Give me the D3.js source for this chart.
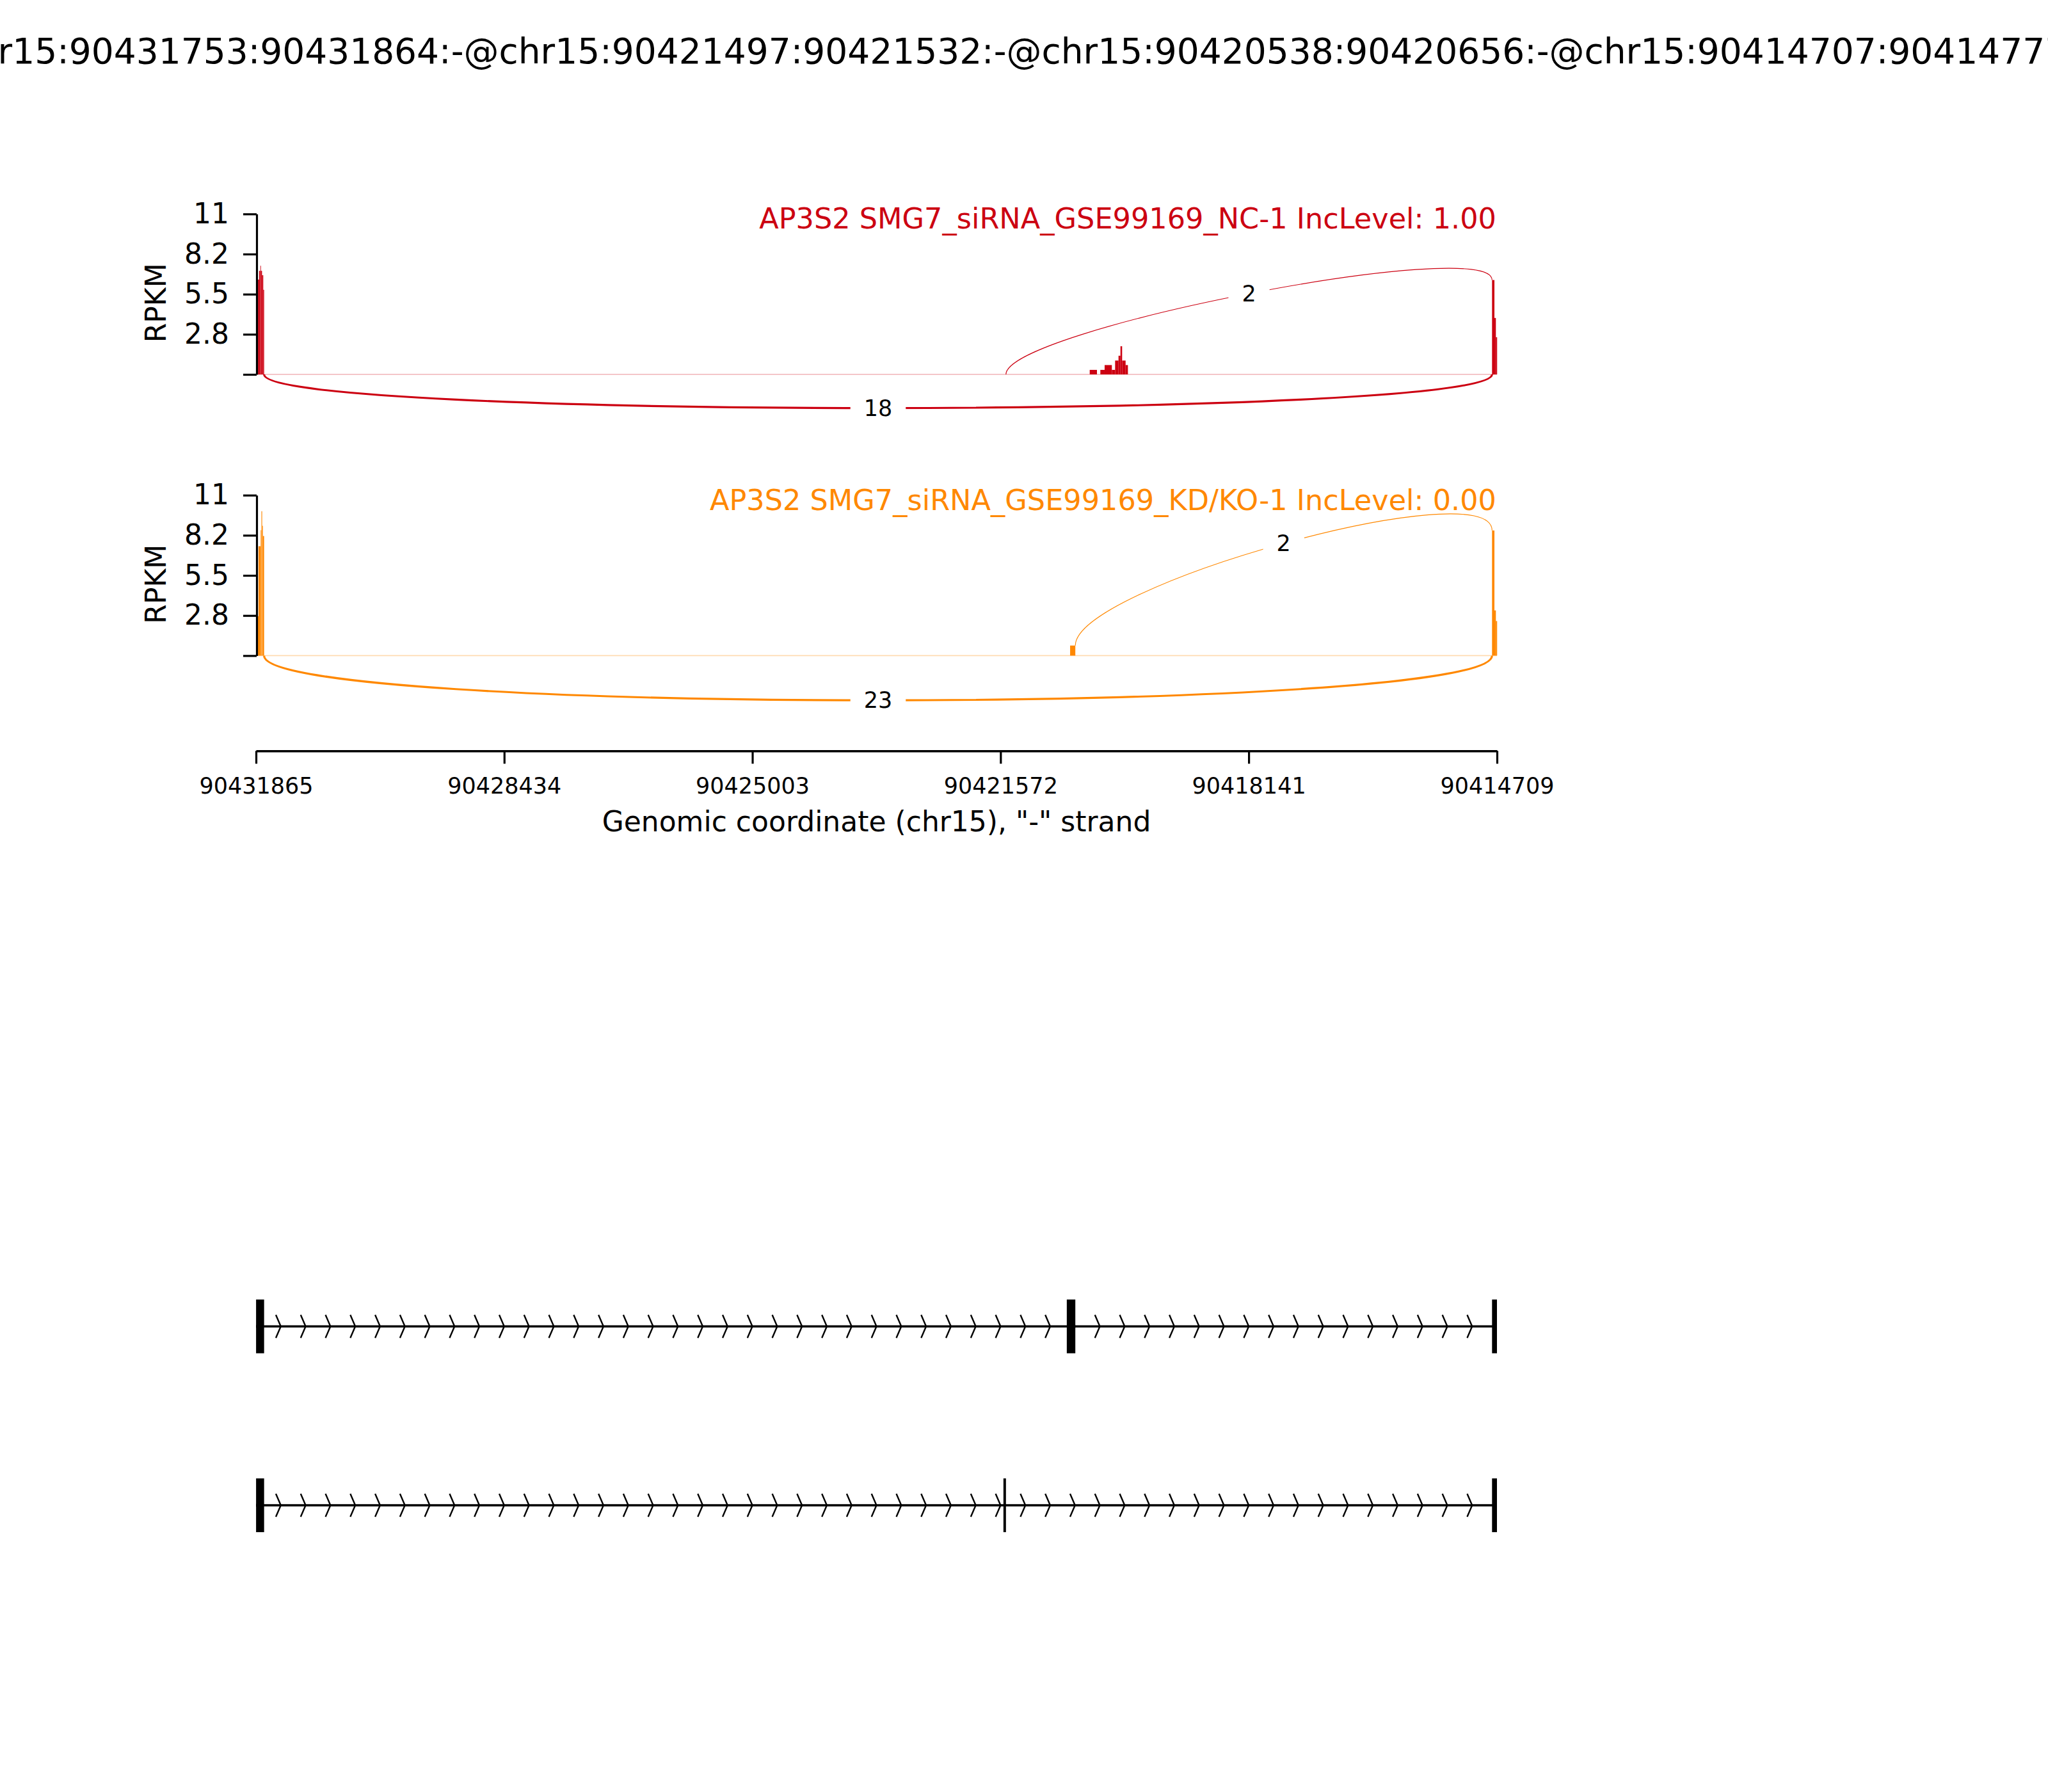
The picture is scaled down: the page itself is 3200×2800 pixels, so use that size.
<!DOCTYPE html>
<html>
<head>
<meta charset="utf-8">
<script src="https://cdn.jsdelivr.net/npm/d3@7"></script>
<style>
  body { margin: 0; background: #ffffff; }
  svg text { font-family: "DejaVu Sans", sans-serif; }
</style>
</head>
<body>
<svg id="chart" width="3200" height="2800"></svg>
<script>
// ---------------- DATA ----------------
const chartTitle = "chr15:90431753:90431864:-@chr15:90421497:90421532:-@chr15:90420538:90420656:-@chr15:90414707:90414777:-";
const sampleNames = [
  "AP3S2 SMG7_siRNA_GSE99169_NC-1 IncLevel: 1.00",
  "AP3S2 SMG7_siRNA_GSE99169_KD/KO-1 IncLevel: 0.00"
];
const sampleColors = ["#CC0011", "#FF8800"];

const xDomain = [90431865, 90414709];
const xTicks = [90431865, 90428434, 90425003, 90421572, 90418141, 90414709];
const xLabel = 'Genomic coordinate (chr15), "-" strand';
const yLabel = "RPKM";
const yMax = 11;
const yTicks = [0, 2.75, 5.5, 8.25, 11];
const yTickLabels = ["", "2.8", "5.5", "8.2", "11"];

// coverage bins: [from, to, RPKM]
const ncCoverage = [
  [90431864, 90431848, 5.2],
  [90431848, 90431838, 3.9],
  [90431838, 90431822, 6.5],
  [90431822, 90431805, 7.1],
  [90431805, 90431797, 7.45],
  [90431797, 90431782, 7.1],
  [90431782, 90431765, 6.8],
  [90431765, 90431753, 5.8],
  [90420339, 90420239, 0.31],
  [90420192, 90420133, 0.31],
  [90420133, 90420033, 0.64],
  [90420033, 90419988, 0.31],
  [90419988, 90419941, 0.95],
  [90419941, 90419914, 1.28],
  [90419914, 90419891, 1.93],
  [90419891, 90419843, 0.95],
  [90419843, 90419811, 0.64],
  [90414777, 90414744, 6.47],
  [90414744, 90414724, 3.87],
  [90414724, 90414707, 2.55]
];
const kdCoverage = [
  [90431864, 90431830, 2.7],
  [90431830, 90431800, 7.5],
  [90431800, 90431790, 8.6],
  [90431790, 90431780, 9.9],
  [90431780, 90431770, 8.9],
  [90431770, 90431753, 8.2],
  [90420610, 90420538, 0.69],
  [90414777, 90414744, 8.58],
  [90414744, 90414724, 3.1],
  [90414724, 90414707, 2.37]
];

// junctions: [donor, acceptor, read count, side]
const ncJunctions = [
  [90421497, 90414777, 2, "up"],
  [90431753, 90414777, 18, "down"]
];
const kdJunctions = [
  [90420538, 90414777, 2, "up"],
  [90431753, 90414777, 23, "down"]
];

// isoform exons: [start, end]
const isoformInclusion = [[90431864, 90431753], [90420656, 90420538], [90414777, 90414707]];
const isoformSkipping  = [[90431864, 90431753], [90421532, 90421497], [90414777, 90414707]];
const intronArrowCount = 50;

// ---------------- LAYOUT ----------------
const plotLeft = 400, plotRight = 2339;
const panelTops = [334.3, 773.7];
const panelHeight = 250.7;
const xAxisY = 1173.3;
const trackCenters = [2072.5, 2352];
const exonHeight = 84;

const svg = d3.select("#chart");
svg.append("rect").attr("width", 3200).attr("height", 2800).attr("fill", "#fff");

const defs = svg.append("defs");
defs.append("clipPath").attr("id", "trackClip")
  .append("rect").attr("x", plotLeft).attr("y", 0)
  .attr("width", plotRight - plotLeft).attr("height", 2800);

const x = d3.scaleLinear().domain(xDomain).range([plotLeft, plotRight]);

svg.append("text")
  .attr("x", 1600).attr("y", 99)
  .attr("text-anchor", "middle")
  .attr("font-size", 55)
  .attr("fill", "#000")
  .text(chartTitle);

const panels = [
  { name: sampleNames[0], color: sampleColors[0], cov: ncCoverage, jxn: ncJunctions },
  { name: sampleNames[1], color: sampleColors[1], cov: kdCoverage, jxn: kdJunctions }
];

function densAt(cov, pos) {
  const b = cov.find(d => pos <= d[0] && pos >= d[1]);
  return b ? b[2] : 0;
}
function bezier(p, t) {
  const u = 1 - t;
  const a = u * u * u, b = 3 * u * u * t, c = 3 * u * t * t, d = t * t * t;
  return [a * p[0][0] + b * p[1][0] + c * p[2][0] + d * p[3][0],
          a * p[0][1] + b * p[1][1] + c * p[2][1] + d * p[3][1]];
}

panels.forEach((p, i) => {
  const top = panelTops[i];
  const y = d3.scaleLinear().domain([0, yMax]).range([top + panelHeight, top]);
  const g = svg.append("g");

  // faint baseline
  g.append("line")
    .attr("x1", plotLeft).attr("x2", plotRight)
    .attr("y1", y(0)).attr("y2", y(0))
    .attr("stroke", p.color).attr("stroke-opacity", 0.3).attr("stroke-width", 1.6);

  // coverage
  g.selectAll("rect.cov").data(p.cov).join("rect")
    .attr("class", "cov")
    .attr("x", d => x(d[0]))
    .attr("width", d => Math.max(0.8, x(d[1]) - x(d[0])))
    .attr("y", d => y(d[2]))
    .attr("height", d => y(0) - y(d[2]))
    .attr("fill", p.color);

  // junction arcs
  const maxCov = d3.max(p.cov, d => d[2]);
  const h = 0.4125 * maxCov;
  const maxCount = d3.max(p.jxn, d => d[2]);
  p.jxn.forEach(j => {
    const x1 = x(j[0]), x2 = x(j[1]);
    let pts;
    if (j[3] === "up") {
      const l = densAt(p.cov, j[0]), r = densAt(p.cov, j[1]);
      pts = [[x1, y(l)], [x1, y(l + h)], [x2, y(r + h)], [x2, y(r)]];
    } else {
      pts = [[x1, y(0)], [x1, y(-h)], [x2, y(-h)], [x2, y(0)]];
    }
    const lw = Math.max(1.1, 3.2 * Math.log(j[2] + 1) / Math.log(maxCount + 1));
    g.append("path")
      .attr("d", `M${pts[0][0]},${pts[0][1]} C${pts[1][0]},${pts[1][1]} ${pts[2][0]},${pts[2][1]} ${pts[3][0]},${pts[3][1]}`)
      .attr("fill", "none")
      .attr("stroke", p.color)
      .attr("stroke-width", lw);
    const mid = bezier(pts, 0.5);
    const label = String(j[2]);
    const tw = label.length * 0.636 * 35;
    const padX = 21;
    g.append("rect")
      .attr("x", mid[0] - tw / 2 - padX).attr("width", tw + 2 * padX)
      .attr("y", mid[1] - 30).attr("height", 60)
      .attr("fill", "#fff");
    g.append("text")
      .attr("x", mid[0]).attr("y", mid[1])
      .attr("text-anchor", "middle")
      .attr("dominant-baseline", "central")
      .attr("font-size", 35)
      .attr("fill", "#000")
      .text(label);
  });

  // y axis
  const yAxis = d3.axisLeft(y)
    .tickValues(yTicks)
    .tickFormat((d, k) => yTickLabels[k])
    .tickSize(21).tickSizeOuter(0).tickPadding(22);
  const ag = g.append("g").attr("transform", `translate(${plotLeft + 1},0)`).call(yAxis);
  ag.select(".domain").attr("stroke", "#000").attr("stroke-width", 3.2);
  ag.selectAll(".tick line").attr("stroke", "#000").attr("stroke-width", 3.2);
  ag.selectAll(".tick text").attr("font-size", 44).attr("fill", "#000")
    .attr("font-family", '"DejaVu Sans", sans-serif');

  // y label
  g.append("text")
    .attr("transform", `translate(${259},${top + 139}) rotate(-90)`)
    .attr("text-anchor", "middle")
    .attr("font-size", 44)
    .attr("fill", "#000")
    .text(yLabel);

  // sample title
  g.append("text")
    .attr("x", plotRight - 1).attr("y", top + 23)
    .attr("text-anchor", "end")
    .attr("font-size", 44.6)
    .attr("fill", p.color)
    .text(p.name);
});

// x axis
const xAxis = d3.axisBottom(x)
  .tickValues(xTicks)
  .tickFormat(d3.format("d"))
  .tickSize(20).tickSizeOuter(0).tickPadding(22);
const xg = svg.append("g").attr("transform", `translate(0,${xAxisY})`).call(xAxis);
xg.select(".domain").attr("stroke", "#000").attr("stroke-width", 3.5);
xg.selectAll(".tick line").attr("stroke", "#000").attr("stroke-width", 3.2);
xg.selectAll(".tick text").attr("font-size", 35).attr("fill", "#000")
  .attr("font-family", '"DejaVu Sans", sans-serif');

svg.append("text")
  .attr("x", (plotLeft + plotRight) / 2).attr("y", 1299)
  .attr("text-anchor", "middle")
  .attr("font-size", 44)
  .attr("fill", "#000")
  .text(xLabel);

// isoform tracks
[isoformInclusion, isoformSkipping].forEach((exons, i) => {
  const cy = trackCenters[i];
  const g = svg.append("g").attr("clip-path", "url(#trackClip)");
  const xs = exons.flat().map(x);
  g.append("line")
    .attr("x1", d3.min(xs)).attr("x2", d3.max(xs))
    .attr("y1", cy).attr("y2", cy)
    .attr("stroke", "#000").attr("stroke-width", 3.5);
  const span = xDomain[1] - xDomain[0];
  const spread = 0.2 * (plotRight - plotLeft) / intronArrowCount;
  const arrows = d3.range(intronArrowCount).map(k => x(xDomain[0] + k * span / intronArrowCount));
  g.selectAll("path.arrow").data(arrows).join("path")
    .attr("class", "arrow")
    .attr("d", a => `M${a - spread},${cy - exonHeight * 0.215} L${a},${cy} L${a - spread},${cy + exonHeight * 0.215}`)
    .attr("fill", "none").attr("stroke", "#000").attr("stroke-width", 2.4);
  g.selectAll("rect.exon").data(exons).join("rect")
    .attr("class", "exon")
    .attr("x", d => x(d[0]))
    .attr("width", d => Math.max(3.5, x(d[1]) - x(d[0])))
    .attr("y", cy - exonHeight / 2).attr("height", exonHeight)
    .attr("fill", "#000");
});
</script>
</body>
</html>
